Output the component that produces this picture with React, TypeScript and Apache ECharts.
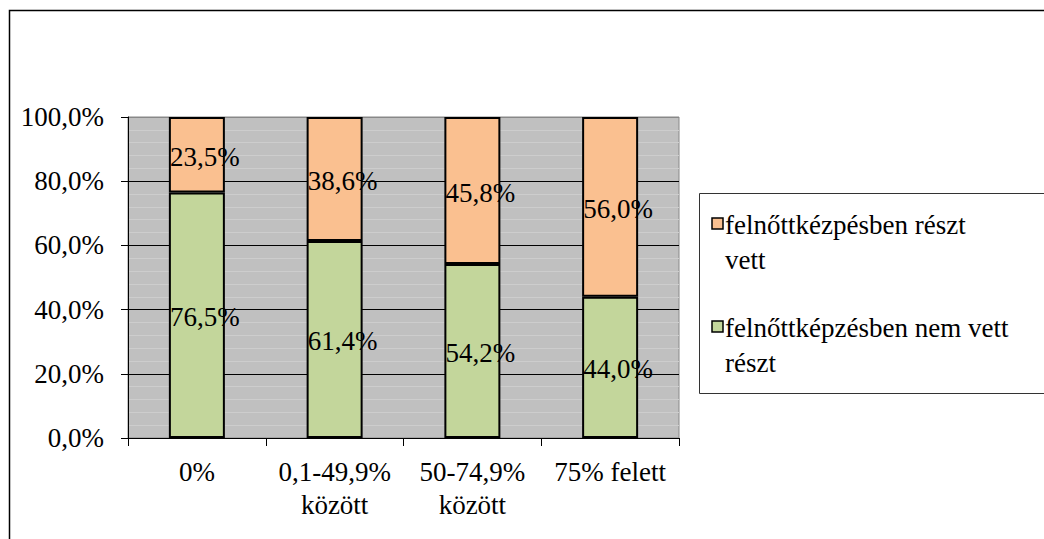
import React, { useEffect, useRef } from "react";
import * as echarts from "echarts";

const categories = ["0%", "0,1-49,9%\nközött", "50-74,9%\nközött", "75% felett"];
const seriesNames = ["felnőttkézpésben részt\nvett", "felnőttképzésben nem vett\nrészt"];
const notParticipated = [76.5, 61.4, 54.2, 44.0];
const participated = [23.5, 38.6, 45.8, 56.0];
const yTicks = { min: 0, max: 100, interval: 20 };

const FONT = "Liberation Serif";
const FS = 27;
const ORANGE = "#FAC090";
const GREEN = "#C3D69B";

const fmt = (v: number) => v.toFixed(1).replace(".", ",") + "%";

export default function App() {
  const ref = useRef<HTMLDivElement>(null);
  useEffect(() => {
    if (!ref.current) return;
    document.body.style.margin = "0";
    const el = ref.current;
    const chart = echarts.init(el, undefined, { renderer: "svg" });
    const label = {
      show: true,
      position: "inside" as const,
      offset: [8, 2],
      color: "#000",
      fontFamily: FONT,
      fontSize: FS,
      formatter: (p: any) => fmt(p.value),
    };
    chart.setOption({
      animation: false,
      textStyle: { fontFamily: FONT },
      grid: {
        left: 128,
        top: 117,
        width: 551,
        height: 321,
        show: true,
        backgroundColor: "#c0c0c0",
        borderColor: "#888",
        borderWidth: 1,
      },
      xAxis: {
        type: "category",
        data: categories,
        axisLine: { lineStyle: { color: "#000", width: 1 } },
        axisTick: { show: true, length: 8, lineStyle: { color: "#000" } },
        axisLabel: {
          color: "#000",
          fontFamily: FONT,
          fontSize: FS,
          lineHeight: 33,
          margin: 17,
          interval: 0,
        },
        splitLine: { show: false },
      },
      yAxis: {
        type: "value",
        min: yTicks.min,
        max: yTicks.max,
        interval: yTicks.interval,
        axisLine: { show: true, lineStyle: { color: "#000", width: 1 } },
        axisTick: { show: true, length: 7, lineStyle: { color: "#000" } },
        axisLabel: {
          color: "#000",
          fontFamily: FONT,
          fontSize: FS,
          margin: 24,
          formatter: (v: number) => fmt(v),
        },
        splitLine: {
          show: true,
          lineStyle: { color: ["#000", "#000", "#000", "#000", "#000", "#888"], width: 1 },
        },
        minorTick: { show: false, splitNumber: 5 },
        minorSplitLine: { show: true, lineStyle: { color: "#cdcdcd", width: 1 } },
      },
      series: [
        {
          name: seriesNames[1],
          type: "bar",
          stack: "total",
          barWidth: 56,
          data: notParticipated,
          itemStyle: { color: GREEN, borderColor: "#000", borderWidth: 2 },
          label,
        },
        {
          name: seriesNames[0],
          type: "bar",
          stack: "total",
          barWidth: 56,
          data: participated,
          itemStyle: { color: ORANGE, borderColor: "#000", borderWidth: 2 },
          label,
        },
      ],
      graphic: [
        {
          type: "rect",
          shape: { x: 9.5, y: 10.5, width: 1100, height: 600 },
          style: { fill: "none", stroke: "#000", lineWidth: 1.5 },
          silent: true,
        },
        {
          type: "rect",
          shape: { x: 699.5, y: 193.5, width: 400, height: 200 },
          style: { fill: "#fff", stroke: "#333", lineWidth: 1 },
          silent: true,
        },
        {
          type: "rect",
          shape: { x: 712, y: 218, width: 11, height: 11 },
          style: { fill: ORANGE, stroke: "#000", lineWidth: 1.5 },
        },
        {
          type: "text",
          x: 725,
          y: 207,
          style: {
            text: seriesNames[0],
            fontFamily: FONT,
            fontSize: FS,
            fill: "#000",
            lineHeight: 35,
            verticalAlign: "top",
          },
        },
        {
          type: "rect",
          shape: { x: 712, y: 321, width: 11, height: 11 },
          style: { fill: GREEN, stroke: "#000", lineWidth: 1.5 },
        },
        {
          type: "text",
          x: 725,
          y: 310,
          style: {
            text: seriesNames[1],
            fontFamily: FONT,
            fontSize: FS,
            fill: "#000",
            lineHeight: 35,
            verticalAlign: "top",
          },
        },
      ],
    });
    return () => {
      chart.dispose();
    };
  }, []);
  return (
    <div style={{ fontFamily: FONT, fontSize: FS }}>
      <div ref={ref} style={{ width: 1044, height: 539 }} />
    </div>
  );
}
